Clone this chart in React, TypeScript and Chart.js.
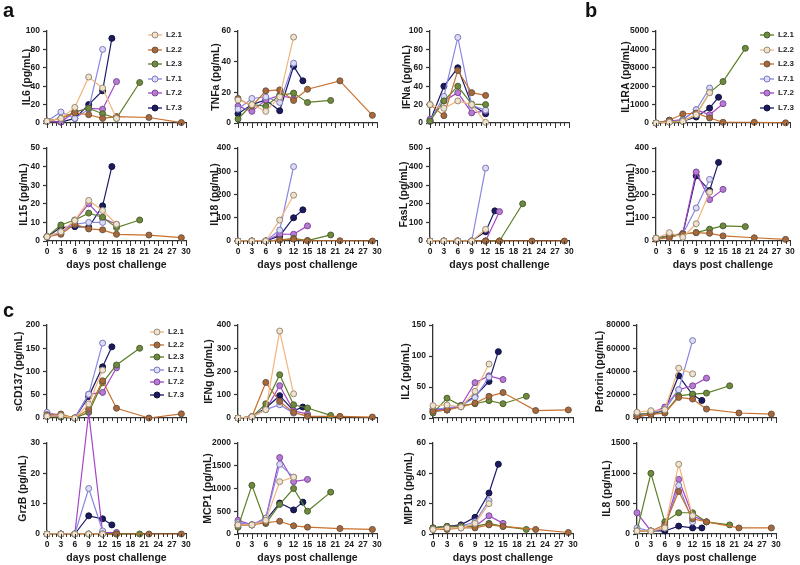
import React, { useEffect, useRef } from 'react';
import { Chart, registerables } from 'chart.js';
Chart.register(...registerables);

const FONT = "'Liberation Sans', Arial, Helvetica, sans-serif";

const seriesNames = ['L2.1', 'L2.2', 'L2.3', 'L7.1', 'L7.2', 'L7.3'];
const lineColors = ['#f2b57c', '#c8702e', '#5b7f25', '#8787e3', '#a545c8', '#1b1b68'];
const pointFills = ['#efe3cf', '#a8683a', '#6e8a3e', '#dcdcf6', '#b77ad6', '#1b1b5e'];
const pointEdges = ['#9a8b74', '#6d5440', '#4d5f30', '#7a7ab8', '#7a4a92', '#111140'];

const dayTicks = [0, 3, 6, 9, 12, 15, 18, 21, 24, 27, 30];

const daysL21 = [0, 3, 6, 9, 12, 15];
const daysL22 = [0, 3, 6, 9, 12, 15, 22, 29];
const daysL23 = [0, 3, 6, 9, 12, 15, 20];
const daysL71 = [0, 3, 6, 9, 12];
const daysL72 = [0, 3, 6, 9, 12, 15];
const daysL73 = [0, 3, 6, 9, 12, 14];
const seriesDays = [daysL21, daysL22, daysL23, daysL71, daysL72, daysL73];

type V = (number | null)[];

const IL6: V[] = [
  [2, 5, 17, 50, 38, 5],
  [2, 5, 11, 9, 5, 7, 6, 0.5],
  [2, 5, 12, 16, 10, 5, 44],
  [2, 12, 5, 15, 80],
  [2, 1, 12, 16, 15, 45],
  [2, 1, 5, 20, 35, 92],
];
const TNFa: V[] = [
  [15, 12, 7.6, 17, 56, null],
  [16, 11, 21, 21.6, 14.7, 22, 27.5, 5],
  [2.6, 12, 11, 18, 19.5, 13.4, 14.7],
  [9, 16, 17, 13.4, 39],
  [11, 7.6, 15, 18, 16, null],
  [6, 12, 15, 8, 37, 27.5],
];
const IFNa: V[] = [
  [20, 16, 24, 20, 0.7, null],
  [20, 8, 57, 33, 30, null, null, null],
  [2, 24, 40, 20.5, 20, null, null],
  [2, 29, 93, 19, 14],
  [4, 24, 33, 11, 13, null],
  [2, 40, 60, 20, 10, null],
];
const IL1RA: V[] = [
  [0, 40, 90, 450, 1650, null],
  [0, 150, 490, 540, 270, 40, 40, 10],
  [0, 60, 100, 450, 1650, 2250, 4060],
  [0, 40, 180, 720, 1900],
  [0, 100, 180, 720, 450, 1050],
  [0, 150, 100, 325, 810, 1400],
];
const IL15: V[] = [
  [2.3, 5, 11, 21.8, 16.4, 9],
  [2.3, 3.6, 9, 6.5, 6, 3.6, 3.2, 1.8],
  [2.3, 8.6, 11.3, 15, 12.8, 7.2, 11.3],
  [2.3, 5, 9, 10, 10],
  [2.3, 4, 10.8, 20, 12.2, 9],
  [2.3, 7.2, 7.7, 7.4, 18.9, 40],
];
const IL18: V[] = [
  [0, 0, 0, 90, 197, null],
  [0, 0, 0, 4, 8, 1, 1, 0],
  [0, 0, 0, 4, 11, 2, 26],
  [0, 0, 0, 47, 320],
  [0, 0, 0, 30, 29, 65],
  [0, 0, 0, 22, 100, 134],
];
const FasL: V[] = [
  [0, 0, 0, 0, 63, null],
  [0, 0, 0, 0, 0, 0, 0, 0],
  [0, 0, 0, 0, 0, 0, 200],
  [0, 0, 0, 0, 392],
  [0, 0, 0, 0, 0, 158],
  [0, 0, 0, 0, 50, 162],
];
const IL10: V[] = [
  [12, 36, 16, 74, 210, null],
  [7, 14, 30, 36, 33, 22, 14, 7],
  [12, 22, 30, 36, 51, 65, 62],
  [12, 22, 30, 142, 265],
  [12, 22, 33, 297, 178, 222],
  [12, 22, 30, 280, 217, 338],
];
const sCD137: V[] = [
  [3.5, 5, 0, 30, 103, null],
  [7, 8.6, 0, 19, 80, 21, 0, 9],
  [3.5, 2, 0, 12, 76, 114, 150],
  [12, 5, 0, 51, 161],
  [7, 2, 0, 51, 55, 108],
  [3.5, 5, 0, 46, 110, 153],
];
const IFNg: V[] = [
  [0, 5, 36, 374, 104, null],
  [0, 5, 153, 71, 24, 7, 7, 4],
  [0, 5, 61, 186, 57, 43, 11],
  [0, 5, 36, 57, 21],
  [0, 5, 36, 139, 31, 17],
  [0, 5, 43, 96, 31, 47],
];
const IL2: V[] = [
  [20, 21, 18, 43, 87, null],
  [10.7, 13, 18, 24, 35, 41, 12, 13],
  [8, 32, 20, 23, 28, 23, 35],
  [14.5, 16, 20, 33, 66],
  [14.5, 13, 20, 57, 68, 62],
  [10.7, 13, 20, 35, 59, 107],
];
const Perforin: V[] = [
  [4900, 6300, 7100, 42900, 38000, null],
  [1400, 2900, 4300, 17700, 16300, 7700, 4300, 3400],
  [2900, 4300, 4300, 19100, 20600, 21400, 27700],
  [2900, 4300, 7100, 24300, 66600],
  [2900, 4300, 9400, 24300, 27700, 34300],
  [1400, 2900, 7100, 36300, 20000, 15100],
];
const GrzB: V[] = [
  [0, 0, 0, 0, 0, null],
  [0, 0, 0, 0, 0, 0, 0, 0],
  [0, 0, 0, 0, 0, 0, 0],
  [0, 0, 0, 15, 1],
  [0, 0, 0, 40, 0.5, 0.5],
  [0, 0, 0, 6, 5, 3],
];
const MCP1: V[] = [
  [200, 200, 300, 1150, 1250, null],
  [200, 200, 250, 280, 180, 150, 120, 100],
  [150, 1070, 230, 650, 1000, 500, 920],
  [250, 200, 350, 1530, 1250],
  [300, 200, 350, 1680, 1150, 1200],
  [200, 200, 300, 680, 530, 700],
];
const MIP1b: V[] = [
  [3, 4, 4, 7, 20, null],
  [3, 3, 4, 4, 6, 5, 3, 1],
  [4, 5, 5, 5, 7, 5, 3],
  [3, 4, 5, 8, 22],
  [4, 5, 5, 5, 12, 7],
  [4, 5, 6, 11, 27, 46],
];
const IL8: V[] = [
  [50, 50, 100, 1150, 300, null],
  [50, 50, 150, 700, 250, 200, 100, 100],
  [50, 1000, 200, 350, 350, 200, 150],
  [100, 50, 100, 800, 200],
  [350, 50, 100, 900, 300, 200],
  [50, 50, 50, 130, 100, 100],
];

type Panel = {
  id: string; title: string; data: V[]; max: number; step: number;
  L: number; T: number; R: number; B: number; xLabels: boolean; titleDx: number; padT?: number;
};

const panels: Panel[] = [
  { id: 'il6', title: 'IL6 (pg/mL)', data: IL6, max: 100, step: 20, L: 47, T: 31, R: 186, B: 123, xLabels: false, titleDx: 20 },
  { id: 'tnfa', title: 'TNFa (pg/mL)', data: TNFa, max: 60, step: 20, L: 238, T: 31, R: 377, B: 123, xLabels: false, titleDx: 22 },
  { id: 'ifna', title: 'IFNa (pg/mL)', data: IFNa, max: 100, step: 20, L: 430, T: 31, R: 569, B: 123, xLabels: false, titleDx: 23 },
  { id: 'il1ra', title: 'IL1RA (pg/mL)', data: IL1RA, max: 5000, step: 1000, L: 656, T: 31, R: 790, B: 123, xLabels: false, titleDx: 30 },
  { id: 'il15', title: 'IL15 (pg/mL)', data: IL15, max: 50, step: 10, L: 47, T: 148, R: 186, B: 241, xLabels: true, titleDx: 23 },
  { id: 'il18', title: 'IL18 (pg/mL)', data: IL18, max: 400, step: 100, L: 238, T: 148, R: 377, B: 241, xLabels: true, titleDx: 23 },
  { id: 'fasl', title: 'FasL (pg/mL)', data: FasL, max: 500, step: 100, L: 430, T: 148, R: 569, B: 241, xLabels: true, titleDx: 26 },
  { id: 'il10', title: 'IL10 (pg/mL)', data: IL10, max: 400, step: 100, L: 656, T: 148, R: 790, B: 241, xLabels: true, titleDx: 25 },
  { id: 'scd137', title: 'sCD137 (pg/mL)', data: sCD137, max: 200, step: 50, L: 47, T: 325, R: 186, B: 418, xLabels: false, titleDx: 28 },
  { id: 'ifng', title: 'IFNg (pg/mL)', data: IFNg, max: 400, step: 100, L: 238, T: 325, R: 377, B: 418, xLabels: false, titleDx: 29 },
  { id: 'il2', title: 'IL2 (pg/mL)', data: IL2, max: 150, step: 50, L: 433, T: 325, R: 573, B: 418, xLabels: false, titleDx: 27 },
  { id: 'perforin', title: 'Perforin (pg/mL)', data: Perforin, max: 80000, step: 20000, L: 637, T: 325, R: 776, B: 418, xLabels: false, titleDx: 37 },
  { id: 'grzb', title: 'GrzB (pg/mL)', data: GrzB, max: 30, step: 10, L: 47, T: 443, R: 186, B: 534, xLabels: true, titleDx: 24, padT: 40 },
  { id: 'mcp1', title: 'MCP1 (pg/mL)', data: MCP1, max: 2000, step: 500, L: 238, T: 443, R: 377, B: 534, xLabels: true, titleDx: 30 },
  { id: 'mip1b', title: 'MIP1b (pg/mL)', data: MIP1b, max: 60, step: 20, L: 433, T: 443, R: 573, B: 534, xLabels: true, titleDx: 24 },
  { id: 'il8', title: 'IL8 (pg/mL)', data: IL8, max: 1500, step: 500, L: 637, T: 443, R: 776, B: 534, xLabels: true, titleDx: 30 },
];

const AXW = 46;
const PADR = 14;
const XH = 36;
const TICK_FONT = { family: FONT, size: 8.5, weight: 'bold' as const };
const TITLE_FONT = { family: FONT, size: 10.5, weight: 'bold' as const };

const dayTickPlugin = {
  id: 'dayTicks',
  afterDraw(chart: any) {
    const xs = chart.scales.x;
    const ctx = chart.ctx;
    const y0 = xs.top;
    ctx.save();
    ctx.strokeStyle = '#333';
    ctx.lineWidth = 1;
    for (let d = 0; d <= 30; d++) {
      const px = Math.round(xs.getPixelForValue(d)) + 0.5;
      const len = d % 3 === 0 ? 5 : 3;
      ctx.beginPath();
      ctx.moveTo(px, y0);
      ctx.lineTo(px, y0 + len);
      ctx.stroke();
    }
    ctx.restore();
  },
};

function PanelChart({ p }: { p: Panel }) {
  const ref = useRef<HTMLCanvasElement>(null);
  const padT = p.padT ?? 12;
  const W = p.R - p.L + AXW + PADR;
  const H = p.B - p.T + padT + XH;
  useEffect(() => {
    const datasets = p.data.map((vals, i) => ({
      label: seriesNames[i],
      data: seriesDays[i]
        .map((d, j) => ({ x: d, y: vals[j] }))
        .filter((pt) => pt.y !== null && pt.y !== undefined),
      borderColor: lineColors[i],
      borderWidth: 1.2,
      pointRadius: 3,
      pointBackgroundColor: pointFills[i],
      pointBorderColor: pointEdges[i],
      pointBorderWidth: 1,
      tension: 0,
      fill: false,
      clip: false as const,
    }));
    const lh = TITLE_FONT.size * 1.2;
    const chart = new Chart(ref.current as HTMLCanvasElement, {
      type: 'line',
      data: { datasets: datasets as any },
      options: {
        responsive: false,
        animation: false,
        layout: { padding: { left: 0, right: PADR, top: padT, bottom: 0 } },
        plugins: { legend: { display: false }, tooltip: { enabled: false } },
        scales: {
          x: {
            type: 'linear',
            min: 0,
            max: 30,
            afterFit: (s: any) => { s.height = XH; },
            afterBuildTicks: (s: any) => { s.ticks = dayTicks.map((v) => ({ value: v })); },
            ticks: {
              display: p.xLabels, autoSkip: false, maxRotation: 0, minRotation: 0,
              padding: 6, font: TICK_FONT, color: '#1a1a1a',
              callback: (v: any) => String(v),
            },
            grid: { display: false, drawTicks: false, tickLength: 0 },
            border: { display: true, color: '#333', width: 1.3 },
            title: {
              display: p.xLabels, text: 'days post challenge', font: TITLE_FONT, color: '#1a1a1a',
              padding: { top: 0, bottom: XH - 24 - lh / 2 },
            },
          },
          y: {
            min: 0,
            max: p.max,
            afterFit: (s: any) => { s.width = AXW; },
            ticks: { stepSize: p.step, padding: 3, font: TICK_FONT, color: '#1a1a1a', callback: (v: any) => String(v) },
            grid: { drawOnChartArea: false, tickLength: 4, tickColor: '#333', tickWidth: 1.2 },
            border: { display: true, color: '#333', width: 1.3 },
            title: {
              display: true, text: p.title, font: TITLE_FONT, color: '#1a1a1a',
              padding: { top: AXW - p.titleDx - lh / 2, bottom: 0 },
            },
          },
        },
      },
      plugins: [dayTickPlugin],
    });
    return () => chart.destroy();
  }, []);
  return (
    <canvas
      ref={ref}
      width={W}
      height={H}
      style={{ position: 'absolute', left: p.L - AXW, top: p.T - padT, width: W, height: H }}
    />
  );
}

function Legend({ left, top, gap, colorIdx }: { left: number; top: number; gap: number; colorIdx: number[] }) {
  return (
    <div style={{ position: 'absolute', left, top }}>
      {seriesNames.map((n, i) => {
        const c = colorIdx[i];
        return (
          <div key={n} style={{ position: 'absolute', left: 0, top: i * gap - 5, height: 10, display: 'flex', alignItems: 'center', whiteSpace: 'nowrap' }}>
            <svg width="16" height="10" style={{ display: 'block' }}>
              <line x1="1" y1="5" x2="15" y2="5" stroke={lineColors[c]} strokeWidth="1.3" />
              <circle cx="8" cy="5" r="3" fill={pointFills[c]} stroke={pointEdges[c]} strokeWidth="1" />
            </svg>
            <span style={{ marginLeft: 3, font: `bold 8px ${FONT}`, color: '#222', lineHeight: '10px' }}>{n}</span>
          </div>
        );
      })}
    </div>
  );
}

const letterStyle = (left: number, top: number): React.CSSProperties => ({
  position: 'absolute', left, top, font: `bold 20px ${FONT}`, lineHeight: '20px', color: '#111',
});

export default function App() {
  return (
    <div style={{ position: 'absolute', left: 0, top: 0, width: 800, height: 565, overflow: 'hidden', background: '#fff' }}>
      {panels.map((p) => <PanelChart key={p.id} p={p} />)}
      <div style={letterStyle(3, 0)}>a</div>
      <div style={letterStyle(585, 0)}>b</div>
      <div style={letterStyle(3, 300)}>c</div>
      <Legend left={147} top={35} gap={14.6} colorIdx={[0, 1, 2, 3, 4, 5]} />
      <Legend left={759} top={35} gap={14.6} colorIdx={[2, 0, 1, 3, 4, 5]} />
      <Legend left={149} top={332} gap={12.5} colorIdx={[0, 1, 2, 3, 4, 5]} />
    </div>
  );
}
